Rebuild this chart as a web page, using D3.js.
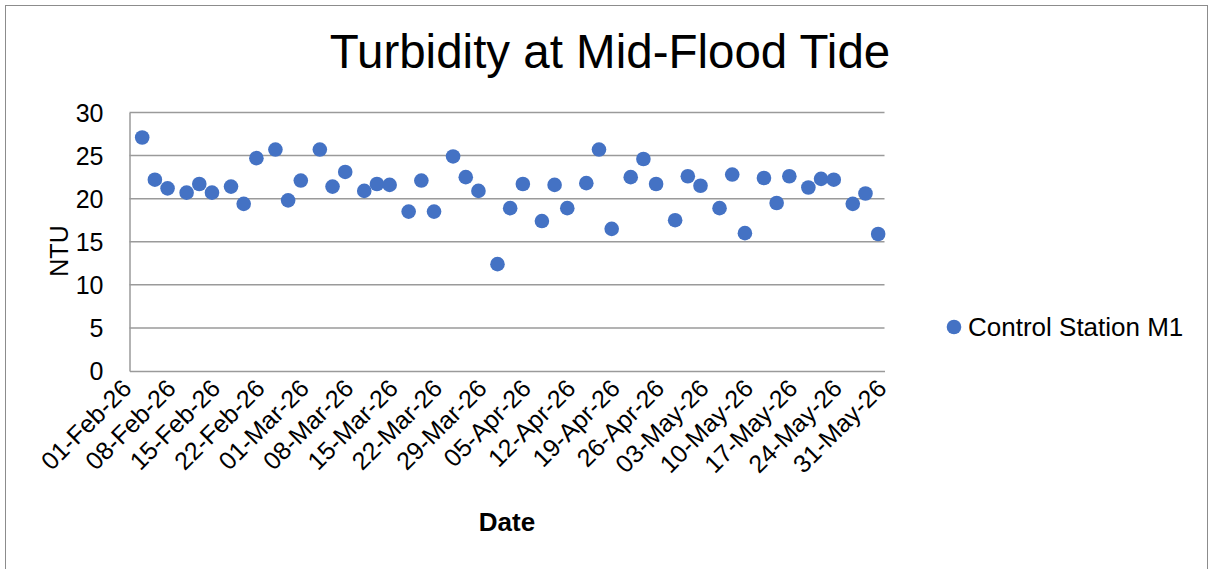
<!DOCTYPE html>
<html>
<head>
<meta charset="utf-8">
<script src="https://cdn.jsdelivr.net/npm/d3@7"></script>
<style>
  html, body { margin: 0; padding: 0; background: #fff; }
  svg { display: block; font-family: "Liberation Sans", Arial, sans-serif; }
</style>
</head>
<body>
<svg id="chart" width="1213" height="569"></svg>
<script>
// ---- Data ----
const title = "Turbidity at Mid-Flood Tide";
const seriesName = "Control Station M1";
const xTitle = "Date";
const yTitle = "NTU";

const dates = [
  "2026-02-03","2026-02-05","2026-02-07","2026-02-10","2026-02-12","2026-02-14",
  "2026-02-17","2026-02-19","2026-02-21","2026-02-24","2026-02-26","2026-02-28",
  "2026-03-03","2026-03-05","2026-03-07","2026-03-10","2026-03-12","2026-03-14",
  "2026-03-17","2026-03-19","2026-03-21","2026-03-24","2026-03-26","2026-03-28","2026-03-31",
  "2026-04-02","2026-04-04","2026-04-07","2026-04-09","2026-04-11","2026-04-14",
  "2026-04-16","2026-04-18","2026-04-21","2026-04-23","2026-04-25","2026-04-28","2026-04-30",
  "2026-05-02","2026-05-05","2026-05-07","2026-05-09","2026-05-12","2026-05-14",
  "2026-05-16","2026-05-19","2026-05-21","2026-05-23","2026-05-26","2026-05-28","2026-05-30"
];
const ntu = [
  27.1, 22.2, 21.2, 20.7, 21.7, 20.7, 21.4, 19.4, 24.7, 25.7, 19.8, 22.1,
  25.7, 21.4, 23.1, 20.9, 21.7, 21.6, 18.5, 22.1, 18.5, 24.9, 22.5, 20.9, 12.4,
  18.9, 21.7, 17.4, 21.6, 18.9, 21.8, 25.7, 16.5, 22.5, 24.6, 21.7, 17.5, 22.6,
  21.5, 18.9, 22.8, 16.0, 22.4, 19.5, 22.6, 21.3, 22.3, 22.2, 19.4, 20.6, 15.9
];
const xTickDates = [
  "2026-02-01","2026-02-08","2026-02-15","2026-02-22","2026-03-01","2026-03-08",
  "2026-03-15","2026-03-22","2026-03-29","2026-04-05","2026-04-12","2026-04-19",
  "2026-04-26","2026-05-03","2026-05-10","2026-05-17","2026-05-24","2026-05-31"
];
const yTicks = [0, 5, 10, 15, 20, 25, 30];
const xDomain = ["2026-02-01", "2026-05-31"];
const yDomain = [0, 30];

// ---- Layout ----
const parse = d3.utcParse("%Y-%m-%d");
const fmt = d3.utcFormat("%d-%b-%y");
const plot = { left: 129.5, right: 884.5, top: 112.5, bottom: 371 };
const color = "#4472C4";
const gridColor = "#9a9a9a";
const font = '"Liberation Sans", Arial, sans-serif';

const svg = d3.select("#chart");

// chart border
svg.append("rect")
  .attr("x", 5.5).attr("y", 5.5)
  .attr("width", 1202).attr("height", 620)
  .attr("fill", "none").attr("stroke", "#8c8c8c").attr("stroke-width", 1);

const x = d3.scaleUtc().domain(xDomain.map(parse)).range([plot.left, plot.right]);
const y = d3.scaleLinear().domain(yDomain).range([plot.bottom, plot.top]);

// gridlines
svg.append("g")
  .selectAll("line")
  .data(yTicks.filter(d => d > 0))
  .join("line")
  .attr("x1", plot.left).attr("x2", plot.right)
  .attr("y1", d => y(d)).attr("y2", d => y(d))
  .attr("stroke", gridColor).attr("stroke-width", 1.5);

// y axis
const yAxis = d3.axisLeft(y).tickValues(yTicks).tickSize(0).tickPadding(26);
const gy = svg.append("g").attr("transform", `translate(${plot.left},0)`).call(yAxis);
gy.select(".domain").attr("stroke", gridColor).attr("stroke-width", 1.5);
gy.selectAll("text")
  .attr("font-family", font).attr("font-size", 25).attr("fill", "#000")
  .attr("dy", "0.35em");

// x axis
const xAxis = d3.axisBottom(x).tickValues(xTickDates.map(parse)).tickFormat(fmt).tickSize(0);
const gx = svg.append("g").attr("transform", `translate(0,${plot.bottom})`).call(xAxis);
gx.select(".domain").attr("stroke", gridColor).attr("stroke-width", 1.5);
gx.selectAll("text")
  .attr("font-family", font).attr("font-size", 25).attr("fill", "#000")
  .attr("text-anchor", "end")
  .attr("dy", 0).attr("y", 0)
  .attr("transform", "translate(3,19) rotate(-45)");

// points
svg.append("g")
  .selectAll("circle")
  .data(dates.map((d, i) => ({ date: parse(d), v: ntu[i] })))
  .join("circle")
  .attr("cx", d => x(d.date))
  .attr("cy", d => y(d.v))
  .attr("r", 7.3)
  .attr("fill", color);

// title
svg.append("text")
  .attr("x", 610).attr("y", 68)
  .attr("text-anchor", "middle")
  .attr("font-family", font).attr("font-size", 47.5).attr("fill", "#000")
  .text(title);

// axis titles
svg.append("text")
  .attr("x", 507).attr("y", 531)
  .attr("text-anchor", "middle")
  .attr("font-family", font).attr("font-size", 26).attr("font-weight", "bold").attr("fill", "#000")
  .text(xTitle);

svg.append("text")
  .attr("transform", `translate(68,251) rotate(-90)`)
  .attr("text-anchor", "middle")
  .attr("font-family", font).attr("font-size", 25).attr("fill", "#000")
  .text(yTitle);

// legend
const lg = svg.append("g").attr("transform", "translate(954,327)");
lg.append("circle").attr("cx", 0).attr("cy", 0).attr("r", 7.3).attr("fill", color);
lg.append("text")
  .attr("x", 14).attr("y", 0).attr("dy", "0.35em")
  .attr("font-family", font).attr("font-size", 26).attr("fill", "#000")
  .text(seriesName);
</script>
</body>
</html>
